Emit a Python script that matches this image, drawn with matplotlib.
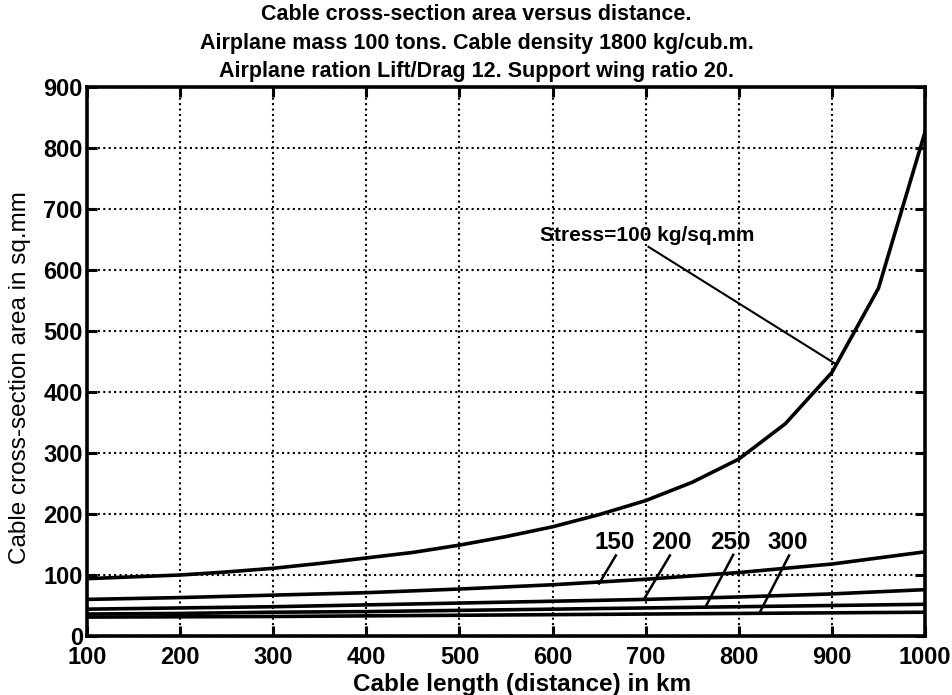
import matplotlib
matplotlib.use("Agg")
import matplotlib.pyplot as plt
import numpy as np

plt.rcParams['font.family'] = ['Liberation Sans', 'DejaVu Sans']

# Cable length (km)
length_km = [100, 150, 200, 250, 300, 350, 400, 450, 500, 550,
             600, 650, 700, 750, 800, 850, 900, 950, 1000]
# Cross-section area (sq.mm) for stress = 100 kg/sq.mm
area_s100 = [94, 97, 100, 105, 111, 119, 128, 137, 149, 163,
             179, 199, 222, 252, 290, 348, 432, 570, 826]

# Coarser grid for the higher-stress curves
length_km_hi = [100, 200, 300, 400, 500, 600, 700, 800, 900, 1000]
area_s150 = [60, 63, 67, 71, 77, 84, 93, 104, 118, 138]
area_s200 = [44, 46, 48, 51, 54, 57, 60, 64, 69, 76]
area_s250 = [36, 37, 39, 40, 42, 44, 46, 48, 50, 52]
area_s300 = [31, 31.5, 32, 33, 34, 35, 36, 37, 38, 39]

x_ticks = [100, 200, 300, 400, 500, 600, 700, 800, 900, 1000]
y_ticks = [0, 100, 200, 300, 400, 500, 600, 700, 800, 900]

title_lines = ["Cable cross-section area versus distance.",
               "Airplane mass 100 tons. Cable density 1800 kg/cub.m.",
               "Airplane ration Lift/Drag 12. Support wing ratio 20."]

W, H = 953, 695
fig = plt.figure(figsize=(W / 100, H / 100), dpi=100)
ax = fig.add_axes([87 / W, 1 - 636 / H, (925 - 87) / W, (636 - 87) / H])

lw = 2.6
ax.plot(length_km, area_s100, color='black', lw=lw)
for ys in (area_s150, area_s200, area_s250, area_s300):
    ax.plot(length_km_hi, ys, color='black', lw=lw)

ax.set_xlim(100, 1000)
ax.set_ylim(0, 900)
ax.set_xticks(x_ticks)
ax.set_yticks(y_ticks)
ax.grid(True, color='black', linestyle=(0, (1, 1.6)), linewidth=1.5)
ax.tick_params(direction='in', length=7, width=2.2, top=True, right=True,
               labelsize=17)
ax.tick_params(axis='x', pad=7)
ax.tick_params(axis='y', pad=3)
for lab in ax.get_xticklabels() + ax.get_yticklabels():
    lab.set_fontweight('bold')
for sp in ax.spines.values():
    sp.set_linewidth(2.6)

# Axis labels
fig.text(522 / W, 1 - 684 / H, "Cable length (distance) in km", fontsize=17.5,
         fontweight='bold', ha='center', va='center')
fig.text(20 / W, 1 - 378 / H, "Cable cross-section area in sq.mm",
         fontsize=17.5, rotation=90, ha='center', va='center')

for i, line in enumerate(title_lines):
    fig.text(0.5, 1 - (14 + 29 * i) / H, line, ha='center', va='center',
             fontsize=15.5, fontweight='bold')

# Curve labels with leader lines
ax.text(587, 656, "Stress=100 kg/sq.mm", fontsize=15, fontweight='bold',
        ha='left', va='center')
ax.plot([703, 905], [638, 445], color='black', lw=1.5)

lbl_y = 153
labels = [("150", 667, (668, 132), (650, 86)),
          ("200", 728, (726, 132), (698, 60)),
          ("250", 791, (794, 133), (764, 47)),
          ("300", 853, (854, 132), (822, 37))]
for txt, tx, p0, p1 in labels:
    ax.text(tx, lbl_y, txt, fontsize=17.5, fontweight='bold', ha='center',
            va='center')
    ax.plot([p0[0], p1[0]], [p0[1], p1[1]], color='black', lw=1.8)

fig.savefig("out.png", dpi=100)
